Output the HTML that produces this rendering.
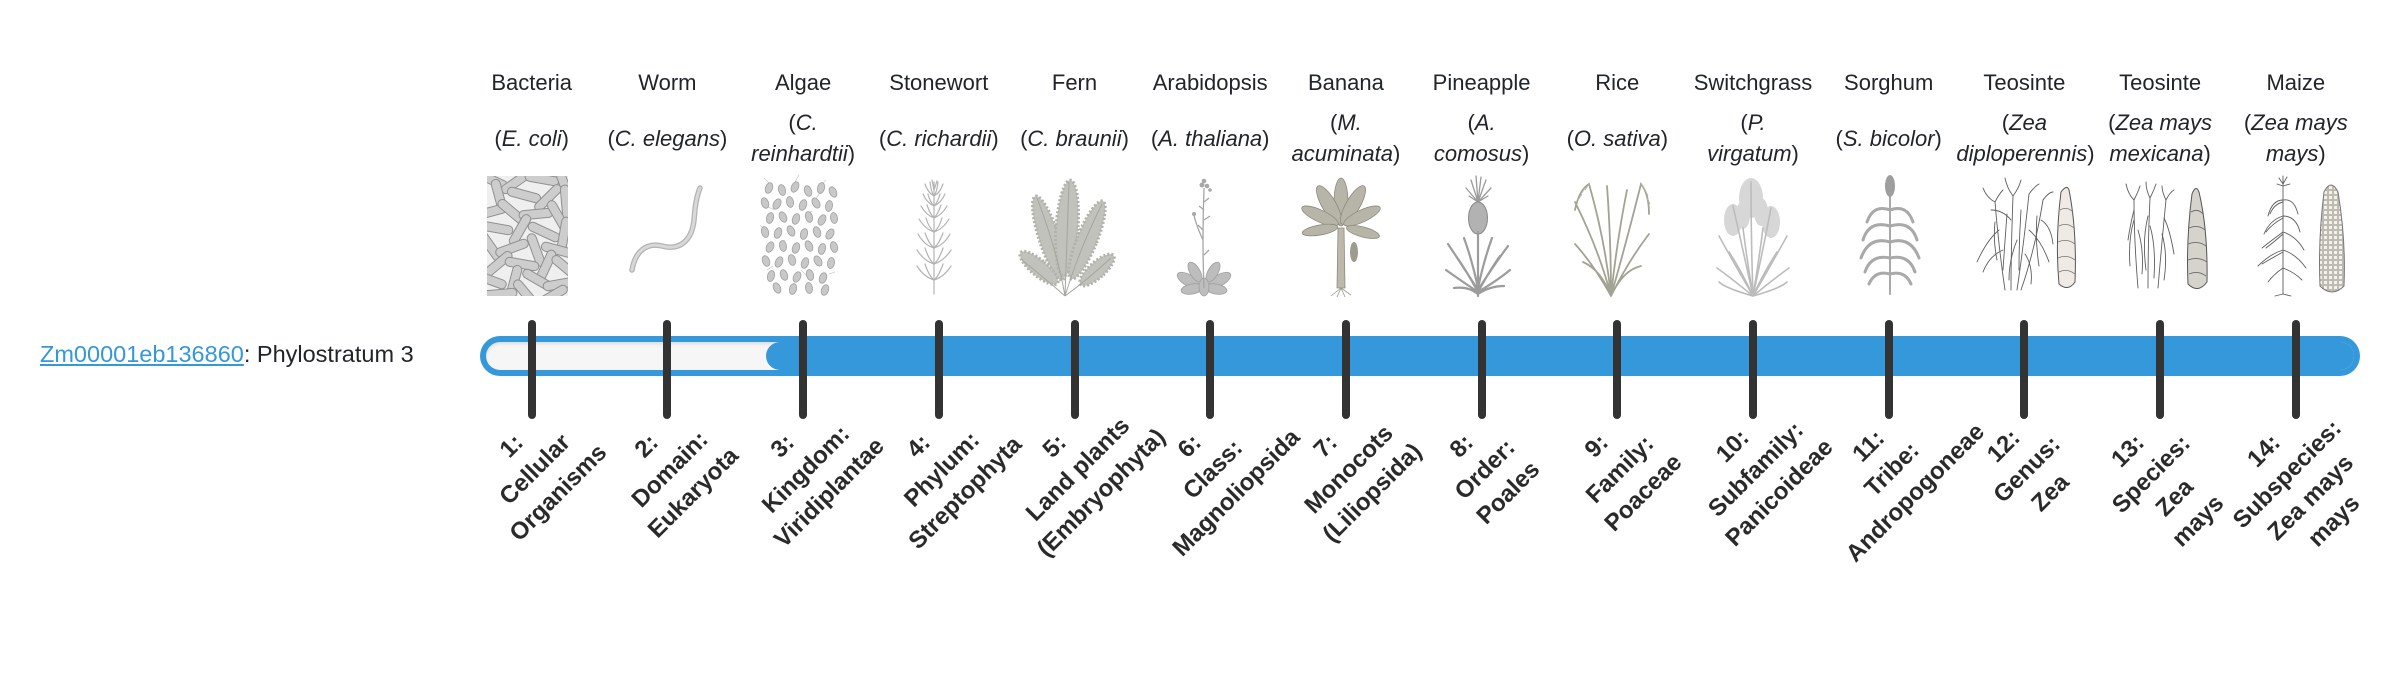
<!DOCTYPE html>
<html><head><meta charset="utf-8">
<style>
html,body{margin:0;padding:0;background:#fff;}
body{width:2400px;height:580px;position:relative;overflow:hidden;font-family:"Liberation Sans",Arial,sans-serif;color:#212529;}
.nm{position:absolute;top:67px;width:136px;text-align:center;font-size:22px;line-height:31px;white-space:nowrap;}
.sp{position:absolute;width:136px;text-align:center;font-size:22px;line-height:31px;white-space:nowrap;}
.sp1{top:123px}.sp2{top:107px}
.tk{position:absolute;top:320px;width:8px;height:99px;background:#333;border-radius:4px;}
.lb{position:absolute;top:419.5px;width:400px;text-align:center;font-weight:bold;font-size:24px;line-height:33px;white-space:nowrap;transform:rotate(-45deg);color:#2a2a2a;}
svg.im{position:absolute;top:170px;}
</style></head><body>

<!-- left label -->
<div style="position:absolute;left:40px;top:340px;font-size:23.5px;line-height:28px;white-space:nowrap;"><span style="color:#3498db;text-decoration:underline;">Zm00001eb136860</span>: Phylostratum 3</div>

<!-- common names -->
<div class="nm" style="left:463.7px">Bacteria</div>
<div class="nm" style="left:599.4px">Worm</div>
<div class="nm" style="left:735.1px">Algae</div>
<div class="nm" style="left:870.8px">Stonewort</div>
<div class="nm" style="left:1006.5px">Fern</div>
<div class="nm" style="left:1142.2px">Arabidopsis</div>
<div class="nm" style="left:1277.9px">Banana</div>
<div class="nm" style="left:1413.6px">Pineapple</div>
<div class="nm" style="left:1549.3px">Rice</div>
<div class="nm" style="left:1685.0px">Switchgrass</div>
<div class="nm" style="left:1820.7px">Sorghum</div>
<div class="nm" style="left:1956.4px">Teosinte</div>
<div class="nm" style="left:2092.1px">Teosinte</div>
<div class="nm" style="left:2227.8px">Maize</div>

<!-- species -->
<div class="sp sp1" style="left:463.7px">(<i>E. coli</i>)</div>
<div class="sp sp1" style="left:599.4px">(<i>C. elegans</i>)</div>
<div class="sp sp2" style="left:735.1px">(<i>C.</i><br><i>reinhardtii</i>)</div>
<div class="sp sp1" style="left:870.8px">(<i>C. richardii</i>)</div>
<div class="sp sp1" style="left:1006.5px">(<i>C. braunii</i>)</div>
<div class="sp sp1" style="left:1142.2px">(<i>A. thaliana</i>)</div>
<div class="sp sp2" style="left:1277.9px">(<i>M.</i><br><i>acuminata</i>)</div>
<div class="sp sp2" style="left:1413.6px">(<i>A.</i><br><i>comosus</i>)</div>
<div class="sp sp1" style="left:1549.3px">(<i>O. sativa</i>)</div>
<div class="sp sp2" style="left:1685.0px">(<i>P.</i><br><i>virgatum</i>)</div>
<div class="sp sp1" style="left:1820.7px">(<i>S. bicolor</i>)</div>
<div class="sp sp2" style="left:1956.4px">(<i>Zea</i><br><i>diploperennis</i>)</div>
<div class="sp sp2" style="left:2092.1px">(<i>Zea mays</i><br><i>mexicana</i>)</div>
<div class="sp sp2" style="left:2227.8px">(<i>Zea mays</i><br><i>mays</i>)</div>

<!-- 1 Bacteria -->
<svg class="im" style="left:463.85px" width="136" height="130" viewBox="0 0 136 130">
<defs><clipPath id="cb"><rect x="23" y="6" width="81" height="120"/></clipPath></defs>
<g clip-path="url(#cb)">
<rect x="23" y="6" width="81" height="120" fill="#efefef"/>
<g fill="#cdcdcd" stroke="#909090" stroke-width="1">
<rect x="-17" y="-4.5" width="34" height="9" rx="4.5" transform="translate(28,10) rotate(25)"/>
<rect x="-17" y="-4.5" width="34" height="9" rx="4.5" transform="translate(52,12) rotate(-35)"/>
<rect x="-17" y="-4.5" width="34" height="9" rx="4.5" transform="translate(78,9) rotate(10)"/>
<rect x="-17" y="-4.5" width="34" height="9" rx="4.5" transform="translate(100,14) rotate(70)"/>
<rect x="-17" y="-4.5" width="34" height="9" rx="4.5" transform="translate(35,26) rotate(75)"/>
<rect x="-17" y="-4.5" width="34" height="9" rx="4.5" transform="translate(60,25) rotate(15)"/>
<rect x="-17" y="-4.5" width="34" height="9" rx="4.5" transform="translate(84,28) rotate(-45)"/>
<rect x="-17" y="-4.5" width="34" height="9" rx="4.5" transform="translate(102,32) rotate(85)"/>
<rect x="-17" y="-4.5" width="34" height="9" rx="4.5" transform="translate(26,42) rotate(-15)"/>
<rect x="-17" y="-4.5" width="34" height="9" rx="4.5" transform="translate(48,42) rotate(40)"/>
<rect x="-17" y="-4.5" width="34" height="9" rx="4.5" transform="translate(72,44) rotate(-5)"/>
<rect x="-17" y="-4.5" width="34" height="9" rx="4.5" transform="translate(94,46) rotate(60)"/>
<rect x="-17" y="-4.5" width="34" height="9" rx="4.5" transform="translate(32,58) rotate(10)"/>
<rect x="-17" y="-4.5" width="34" height="9" rx="4.5" transform="translate(56,60) rotate(-60)"/>
<rect x="-17" y="-4.5" width="34" height="9" rx="4.5" transform="translate(80,62) rotate(25)"/>
<rect x="-17" y="-4.5" width="34" height="9" rx="4.5" transform="translate(100,64) rotate(-80)"/>
<rect x="-17" y="-4.5" width="34" height="9" rx="4.5" transform="translate(26,76) rotate(55)"/>
<rect x="-17" y="-4.5" width="34" height="9" rx="4.5" transform="translate(48,78) rotate(-20)"/>
<rect x="-17" y="-4.5" width="34" height="9" rx="4.5" transform="translate(72,80) rotate(70)"/>
<rect x="-17" y="-4.5" width="34" height="9" rx="4.5" transform="translate(94,80) rotate(15)"/>
<rect x="-17" y="-4.5" width="34" height="9" rx="4.5" transform="translate(34,94) rotate(-40)"/>
<rect x="-17" y="-4.5" width="34" height="9" rx="4.5" transform="translate(58,94) rotate(10)"/>
<rect x="-17" y="-4.5" width="34" height="9" rx="4.5" transform="translate(82,96) rotate(-65)"/>
<rect x="-17" y="-4.5" width="34" height="9" rx="4.5" transform="translate(102,98) rotate(40)"/>
<rect x="-17" y="-4.5" width="34" height="9" rx="4.5" transform="translate(26,110) rotate(20)"/>
<rect x="-17" y="-4.5" width="34" height="9" rx="4.5" transform="translate(50,112) rotate(-75)"/>
<rect x="-17" y="-4.5" width="34" height="9" rx="4.5" transform="translate(74,110) rotate(30)"/>
<rect x="-17" y="-4.5" width="34" height="9" rx="4.5" transform="translate(96,114) rotate(-10)"/>
<rect x="-17" y="-4.5" width="34" height="9" rx="4.5" transform="translate(36,124) rotate(-5)"/>
<rect x="-17" y="-4.5" width="34" height="9" rx="4.5" transform="translate(62,124) rotate(50)"/>
<rect x="-17" y="-4.5" width="34" height="9" rx="4.5" transform="translate(88,126) rotate(-30)"/>
</g></g></svg>

<!-- 2 Worm -->
<svg class="im" style="left:599.55px" width="136" height="130" viewBox="0 0 136 130">
<path d="M32,100 C35,82 46,72 62,76 C80,81 92,70 94,50 C95,38 96,28 100,18" fill="none" stroke="#b3b3b3" stroke-width="5.5" stroke-linecap="round"/>
<path d="M32,100 C35,82 46,72 62,76 C80,81 92,70 94,50 C95,38 96,28 100,18" fill="none" stroke="#d8d8d8" stroke-width="3" stroke-linecap="round"/>
</svg>

<!-- 3 Algae -->
<svg class="im" style="left:735.25px" width="136" height="130" viewBox="0 0 136 130">
<g stroke="#cfcfcf" stroke-width="0.8" fill="none">
<path d="M35,14 l-6,-6 M60,12 l4,-7 M85,16 l6,-6 M40,40 l-7,-3 M70,45 l7,-4 M50,70 l-6,3 M90,66 l7,2 M38,96 l-6,4 M66,100 l5,5 M94,104 l6,-2 M30,60 l-5,-5 M80,30 l5,-7"/>
</g>
<g fill="#c8c8c8" stroke="#a2a2a2" stroke-width="0.8">
<ellipse cx="34" cy="18" rx="3.5" ry="5.5" transform="rotate(20 34 18)"/>
<ellipse cx="47" cy="20" rx="3.5" ry="5.5" transform="rotate(-15 47 20)"/>
<ellipse cx="60" cy="17" rx="3.5" ry="5.5" transform="rotate(25 60 17)"/>
<ellipse cx="73" cy="21" rx="3.5" ry="5.5" transform="rotate(-20 73 21)"/>
<ellipse cx="86" cy="18" rx="3.5" ry="5.5" transform="rotate(15 86 18)"/>
<ellipse cx="98" cy="22" rx="3.5" ry="5.5" transform="rotate(-25 98 22)"/>
<ellipse cx="30" cy="33" rx="3.5" ry="5.5" transform="rotate(-20 30 33)"/>
<ellipse cx="42" cy="34" rx="3.5" ry="5.5" transform="rotate(30 42 34)"/>
<ellipse cx="55" cy="32" rx="3.5" ry="5.5" transform="rotate(-10 55 32)"/>
<ellipse cx="68" cy="35" rx="3.5" ry="5.5" transform="rotate(20 68 35)"/>
<ellipse cx="81" cy="33" rx="3.5" ry="5.5" transform="rotate(-30 81 33)"/>
<ellipse cx="94" cy="36" rx="3.5" ry="5.5" transform="rotate(10 94 36)"/>
<ellipse cx="35" cy="48" rx="3.5" ry="5.5" transform="rotate(15 35 48)"/>
<ellipse cx="48" cy="47" rx="3.5" ry="5.5" transform="rotate(-25 48 47)"/>
<ellipse cx="61" cy="49" rx="3.5" ry="5.5" transform="rotate(20 61 49)"/>
<ellipse cx="74" cy="47" rx="3.5" ry="5.5" transform="rotate(-15 74 47)"/>
<ellipse cx="87" cy="50" rx="3.5" ry="5.5" transform="rotate(25 87 50)"/>
<ellipse cx="99" cy="48" rx="3.5" ry="5.5" transform="rotate(-10 99 48)"/>
<ellipse cx="30" cy="62" rx="3.5" ry="5.5" transform="rotate(-15 30 62)"/>
<ellipse cx="43" cy="63" rx="3.5" ry="5.5" transform="rotate(20 43 63)"/>
<ellipse cx="56" cy="61" rx="3.5" ry="5.5" transform="rotate(-25 56 61)"/>
<ellipse cx="69" cy="64" rx="3.5" ry="5.5" transform="rotate(15 69 64)"/>
<ellipse cx="82" cy="62" rx="3.5" ry="5.5" transform="rotate(-20 82 62)"/>
<ellipse cx="95" cy="64" rx="3.5" ry="5.5" transform="rotate(30 95 64)"/>
<ellipse cx="35" cy="77" rx="3.5" ry="5.5" transform="rotate(25 35 77)"/>
<ellipse cx="48" cy="76" rx="3.5" ry="5.5" transform="rotate(-10 48 76)"/>
<ellipse cx="61" cy="78" rx="3.5" ry="5.5" transform="rotate(20 61 78)"/>
<ellipse cx="74" cy="76" rx="3.5" ry="5.5" transform="rotate(-25 74 76)"/>
<ellipse cx="87" cy="79" rx="3.5" ry="5.5" transform="rotate(15 87 79)"/>
<ellipse cx="99" cy="77" rx="3.5" ry="5.5" transform="rotate(-15 99 77)"/>
<ellipse cx="31" cy="91" rx="3.5" ry="5.5" transform="rotate(-20 31 91)"/>
<ellipse cx="44" cy="92" rx="3.5" ry="5.5" transform="rotate(25 44 92)"/>
<ellipse cx="57" cy="90" rx="3.5" ry="5.5" transform="rotate(-15 57 90)"/>
<ellipse cx="70" cy="93" rx="3.5" ry="5.5" transform="rotate(20 70 93)"/>
<ellipse cx="83" cy="91" rx="3.5" ry="5.5" transform="rotate(-30 83 91)"/>
<ellipse cx="96" cy="93" rx="3.5" ry="5.5" transform="rotate(10 96 93)"/>
<ellipse cx="36" cy="106" rx="3.5" ry="5.5" transform="rotate(15 36 106)"/>
<ellipse cx="49" cy="105" rx="3.5" ry="5.5" transform="rotate(-20 49 105)"/>
<ellipse cx="62" cy="107" rx="3.5" ry="5.5" transform="rotate(25 62 107)"/>
<ellipse cx="75" cy="105" rx="3.5" ry="5.5" transform="rotate(-15 75 105)"/>
<ellipse cx="88" cy="108" rx="3.5" ry="5.5" transform="rotate(20 88 108)"/>
<ellipse cx="42" cy="118" rx="3.5" ry="5.5" transform="rotate(-25 42 118)"/>
<ellipse cx="58" cy="119" rx="3.5" ry="5.5" transform="rotate(15 58 119)"/>
<ellipse cx="74" cy="118" rx="3.5" ry="5.5" transform="rotate(-10 74 118)"/>
<ellipse cx="90" cy="120" rx="3.5" ry="5.5" transform="rotate(20 90 120)"/>
</g></svg>

<!-- 4 Stonewort -->
<svg class="im" style="left:870.95px" width="136" height="130" viewBox="0 0 136 130">
<g stroke="#b3b3b3" stroke-width="1.2" fill="none" stroke-linecap="round">
<path d="M63,124 L63,12"/>
<path d="M63,110 q-10,-3 -17,-14 M63,110 q10,-3 17,-14 M63,110 q-5,-4 -9,-16 M63,110 q5,-4 9,-16"/>
<path d="M63,94 q-10,-3 -17,-14 M63,94 q10,-3 17,-14 M63,94 q-5,-4 -9,-16 M63,94 q5,-4 9,-16"/>
<path d="M63,78 q-10,-3 -16,-14 M63,78 q10,-3 16,-14 M63,78 q-5,-4 -9,-15 M63,78 q5,-4 9,-15"/>
<path d="M63,62 q-9,-3 -15,-13 M63,62 q9,-3 15,-13 M63,62 q-5,-4 -8,-14 M63,62 q5,-4 8,-14"/>
<path d="M63,48 q-8,-3 -13,-12 M63,48 q8,-3 13,-12 M63,48 q-4,-4 -7,-13 M63,48 q4,-4 7,-13"/>
<path d="M63,36 q-7,-3 -11,-12 M63,36 q7,-3 11,-12 M63,36 q-4,-4 -6,-12 M63,36 q4,-4 6,-12"/>
<path d="M63,26 q-6,-3 -9,-12 M63,26 q6,-3 9,-12 M63,26 q-3,-4 -4,-14 M63,26 q3,-4 4,-14 M63,20 l-2,-10 M63,20 l3,-9"/>
</g></svg>

<!-- 5 Fern -->
<svg class="im" style="left:1006.65px" width="136" height="130" viewBox="0 0 136 130">
<g fill="#c2c2bd" stroke="#b2b2ac" stroke-width="3" stroke-dasharray="2 2">
<ellipse cx="42" cy="68" rx="10" ry="44" transform="rotate(-18 42 68)"/>
<ellipse cx="60" cy="58" rx="11" ry="48" transform="rotate(4 60 58)"/>
<ellipse cx="80" cy="70" rx="10" ry="42" transform="rotate(22 80 70)"/>
<ellipse cx="32" cy="98" rx="8" ry="24" transform="rotate(-50 32 98)"/>
<ellipse cx="90" cy="100" rx="8" ry="22" transform="rotate(48 90 100)"/>
</g>
<g stroke="#a5a5a0" stroke-width="1" fill="none">
<path d="M58,126 Q50,80 30,28 M58,126 Q60,70 62,12 M58,126 Q72,80 95,34 M58,126 Q40,110 15,90 M58,126 Q80,110 104,88"/>
</g></svg>

<!-- 6 Arabidopsis -->
<svg class="im" style="left:1142.35px" width="136" height="130" viewBox="0 0 136 130">
<g fill="#bdbdbd" stroke="#a0a0a0" stroke-width="0.8">
<ellipse cx="46" cy="110" rx="5.5" ry="12" transform="rotate(-60 46 110)"/>
<ellipse cx="78" cy="110" rx="5.5" ry="12" transform="rotate(60 78 110)"/>
<ellipse cx="53" cy="102" rx="5" ry="11" transform="rotate(-30 53 102)"/>
<ellipse cx="71" cy="102" rx="5" ry="11" transform="rotate(30 71 102)"/>
<ellipse cx="50" cy="119" rx="5" ry="11" transform="rotate(-100 50 119)"/>
<ellipse cx="74" cy="119" rx="5" ry="11" transform="rotate(100 74 119)"/>
<ellipse cx="62" cy="117" rx="5" ry="9"/>
</g>
<g stroke="#a6a6a6" stroke-width="1.3" fill="none">
<path d="M62,118 Q60,70 62,18 M61,70 Q54,55 52,45 M62,50 l6,-4 M61,60 l-5,-5 M62,85 l5,-5 M62,40 l-5,-4 M62,32 l5,-4"/>
</g>
<g fill="#a8a8a8"><circle cx="60" cy="15" r="2.5"/><circle cx="65" cy="16" r="2.3"/><circle cx="62" cy="11" r="2.3"/><circle cx="52" cy="44" r="2"/><circle cx="68" cy="20" r="1.8"/></g>
</svg>

<!-- 7 Banana -->
<svg class="im" style="left:1278.05px" width="136" height="130" viewBox="0 0 136 130">
<g fill="#b7b5a7" stroke="#8d8b7e" stroke-width="0.8">
<ellipse cx="63" cy="32" rx="7" ry="24"/>
<ellipse cx="51" cy="35" rx="7" ry="22" transform="rotate(-30 51 35)"/>
<ellipse cx="75" cy="35" rx="7" ry="22" transform="rotate(30 75 35)"/>
<ellipse cx="42" cy="46" rx="6" ry="20" transform="rotate(-65 42 46)"/>
<ellipse cx="84" cy="46" rx="6" ry="20" transform="rotate(65 84 46)"/>
<ellipse cx="42" cy="60" rx="5" ry="18" transform="rotate(-100 42 60)"/>
<ellipse cx="85" cy="62" rx="5" ry="17" transform="rotate(105 85 62)"/>
</g>
<path d="M59,118 L60,58 L66,58 L67,118 Z" fill="#bcb9ab" stroke="#8d8b7e" stroke-width="0.8"/>
<ellipse cx="76" cy="82" rx="4" ry="10" fill="#9e9c90"/>
<g stroke="#9a988c" stroke-width="0.8" fill="none"><path d="M63,118 l-10,8 M63,118 l-4,9 M63,118 l4,9 M63,118 l10,7"/></g>
</svg>

<!-- 8 Pineapple -->
<svg class="im" style="left:1413.75px" width="136" height="130" viewBox="0 0 136 130">
<g stroke="#9a9a9a" stroke-width="1.3" fill="none" stroke-linecap="round">
<path d="M64,32 L57,10 M64,32 L62,6 M64,32 L67,7 M64,32 L72,10 M64,32 L52,18 M64,32 L77,18 M64,32 L55,26 M64,32 L74,26"/>
</g>
<ellipse cx="64" cy="48" rx="9.5" ry="16" fill="#b2b2b2" stroke="#8a8a8a" stroke-width="1"/>
<g stroke="#9c9c9c" stroke-width="2.2" fill="none" stroke-linecap="round">
<path d="M64,126 L64,62 M64,120 Q48,95 34,74 M64,120 Q80,95 94,76 M64,122 Q46,110 32,100 M64,122 Q84,110 96,100 M64,118 Q58,90 50,68 M64,118 Q70,90 78,68 M64,124 Q54,116 40,118 M64,124 Q76,116 90,116 M64,122 Q52,100 42,86 M64,122 Q76,100 86,86"/>
</g></svg>

<!-- 9 Rice -->
<svg class="im" style="left:1549.45px" width="136" height="130" viewBox="0 0 136 130">
<g stroke="#a3a394" stroke-width="1.8" fill="none" stroke-linecap="round">
<path d="M62,126 Q50,80 26,32 M62,126 Q56,70 40,14 Q30,20 26,40 M62,126 Q62,70 58,16 M62,126 Q68,70 78,20 M62,126 Q78,70 92,14 Q100,24 100,44 M62,126 Q80,90 100,64 M62,126 Q45,95 26,74 M62,126 Q52,100 34,92 M62,126 Q74,100 92,96"/>
</g>
<g stroke="#b5b5a8" stroke-width="1" fill="none">
<path d="M40,14 l-4,6 M36,18 l-4,6 M33,24 l-4,6 M92,14 l4,6 M96,20 l3,6 M98,28 l3,6"/>
</g></svg>

<!-- 10 Switchgrass -->
<svg class="im" style="left:1685.15px" width="136" height="130" viewBox="0 0 136 130">
<g fill="#d3d3d3" opacity="0.9">
<ellipse cx="66" cy="28" rx="12" ry="20"/><ellipse cx="48" cy="50" rx="9" ry="16"/><ellipse cx="86" cy="52" rx="9" ry="16"/><ellipse cx="58" cy="45" rx="7" ry="14"/><ellipse cx="76" cy="42" rx="7" ry="14"/>
</g>
<g stroke="#bcbcbc" stroke-width="1.6" fill="none" stroke-linecap="round">
<path d="M68,126 Q66,70 66,12 M68,126 Q58,80 48,36 M68,126 Q78,80 86,38 M68,126 Q50,95 34,66 M68,126 Q86,95 102,66 M68,126 Q46,108 32,98 M68,126 Q90,108 104,98 M68,126 Q56,100 44,82 M68,126 Q80,100 92,82 M68,126 Q62,90 58,58 M68,126 Q74,90 78,58 M68,126 Q40,118 34,112 M68,126 Q96,118 102,112"/>
</g></svg>

<!-- 11 Sorghum -->
<svg class="im" style="left:1820.85px" width="136" height="130" viewBox="0 0 136 130">
<g stroke="#a9a9a9" stroke-width="3" fill="none" stroke-linecap="round">
<path d="M69,124 L69,24" stroke-width="2"/>
<path d="M69,40 Q86,34 92,52 M69,40 Q52,34 46,52 M69,56 Q90,50 96,70 M69,56 Q48,50 42,70 M69,72 Q90,66 98,88 M69,72 Q48,66 40,88 M69,88 Q88,84 94,102 M69,88 Q50,84 44,102 M69,104 Q84,100 90,114 M69,104 Q54,100 48,114"/>
</g>
<ellipse cx="69" cy="16" rx="5" ry="11" fill="#9e9e9e"/>
</svg>

<!-- 12 Teosinte -->
<svg class="im" style="left:1956.55px" width="136" height="130" viewBox="0 0 136 130">
<g stroke="#5e5e5e" stroke-width="0.9" fill="none" stroke-linecap="round">
<path d="M48,120 Q42,80 38,32 M54,120 Q54,80 56,26 M60,120 Q66,80 72,24 M64,120 Q78,80 86,30"/>
<path d="M42,60 Q30,70 20,92 M46,80 Q32,86 26,102 M54,50 Q46,40 34,40 M60,70 Q52,90 52,110 M72,60 Q84,70 92,92 M68,84 Q76,96 74,114 M84,50 Q94,56 96,74 M38,32 Q30,28 26,18 M56,26 Q50,18 48,8 M56,26 Q62,18 64,10 M72,24 Q78,16 82,14 M86,30 Q92,22 96,22 M38,32 Q42,24 46,20"/>
<path d="M38,52 Q36,70 40,90 M50,44 Q48,70 46,100 M64,40 Q62,70 62,100 M80,46 Q78,70 82,96"/>
</g>
<path d="M104,22 Q110,14 112,20 Q120,60 118,112 Q111,122 102,114 Q98,70 104,22 Z" fill="#efebe4" stroke="#555" stroke-width="1"/>
<g stroke="#777" stroke-width="0.8" fill="none"><path d="M103,40 Q110,36 116,42 M102,56 Q110,52 117,58 M101,72 Q110,68 118,74 M101,88 Q110,84 118,90 M102,102 Q110,98 118,104"/></g>
</svg>

<!-- 13 Teosinte -->
<svg class="im" style="left:2092.25px" width="136" height="130" viewBox="0 0 136 130">
<g stroke="#5e5e5e" stroke-width="0.9" fill="none" stroke-linecap="round">
<path d="M46,118 Q42,70 42,30 M56,118 Q56,70 58,28 M66,118 Q70,70 74,30"/>
<path d="M42,30 Q36,24 34,14 M42,30 Q46,22 48,16 M58,28 Q54,20 54,12 M58,28 Q62,20 64,14 M74,30 Q78,22 82,20 M74,30 Q70,22 70,16"/>
<path d="M42,50 Q36,70 38,96 M46,60 Q52,80 50,104 M56,46 Q50,70 54,100 M58,56 Q64,76 62,108 M72,48 Q78,60 82,84 M70,64 Q76,84 72,110 M42,40 Q38,56 36,70"/>
</g>
<path d="M100,24 Q104,14 107,22 Q116,60 115,112 Q106,124 96,114 Q94,70 100,24 Z" fill="#d6d3cc" stroke="#555" stroke-width="1"/>
<g stroke="#6a6a6a" stroke-width="0.9" fill="none"><path d="M99,42 Q106,38 111,44 M97,58 Q106,54 113,60 M96,74 Q106,70 114,76 M96,90 Q106,86 115,92 M97,104 Q106,100 114,106"/></g>
</svg>

<!-- 14 Maize -->
<svg class="im" style="left:2227.95px" width="136" height="130" viewBox="0 0 136 130">
<defs><pattern id="kp" width="5" height="5" patternUnits="userSpaceOnUse"><rect width="5" height="5" fill="#f4f1eb"/><rect x="0.5" y="0.5" width="4" height="4" fill="none" stroke="#a8a49c" stroke-width="0.7"/></pattern></defs>
<g stroke="#5e5e5e" stroke-width="0.9" fill="none" stroke-linecap="round">
<path d="M55,124 L55,14 M55,14 l-4,-6 M55,14 l4,-7 M55,14 l0,-8 M55,16 l-6,-2 M55,16 l7,-2"/>
<path d="M55,30 Q44,30 40,46 M55,30 Q66,28 70,44 M55,46 Q42,50 36,64 M55,46 Q68,46 72,62 M55,62 Q44,70 34,78 M55,62 Q68,66 76,80 M55,80 Q42,84 30,96 M55,80 Q68,84 78,98 M55,98 Q46,104 40,112 M55,98 Q66,102 74,110 M55,124 l-8,2 M55,124 l8,2"/>
<path d="M55,32 Q46,34 42,44 M55,48 Q44,54 38,62 M55,64 Q46,72 38,78 M55,82 Q44,88 34,94"/>
</g>
<path d="M96,22 Q103,8 110,22 Q118,70 116,116 Q104,128 92,116 Q90,70 96,22 Z" fill="url(#kp)" stroke="#777" stroke-width="1"/>
</svg>

<!-- progress bar -->
<div style="position:absolute;left:480px;top:336px;width:1880px;height:40px;border-radius:20px;background:#3598db;"></div>
<div style="position:absolute;left:486px;top:342px;width:1868px;height:28px;border-radius:14px;background:#f6f6f6;box-shadow:inset 0 2px 3px rgba(0,0,0,0.1);overflow:hidden;">
  <div style="position:absolute;left:280px;top:0;width:1600px;height:28px;border-radius:14px 0 0 14px;background:#3598db;"></div>
</div>

<!-- ticks -->
<div class="tk" style="left:527.7px"></div>
<div class="tk" style="left:663.4px"></div>
<div class="tk" style="left:799.1px"></div>
<div class="tk" style="left:934.8px"></div>
<div class="tk" style="left:1070.5px"></div>
<div class="tk" style="left:1206.2px"></div>
<div class="tk" style="left:1341.9px"></div>
<div class="tk" style="left:1477.6px"></div>
<div class="tk" style="left:1613.3px"></div>
<div class="tk" style="left:1749.0px"></div>
<div class="tk" style="left:1884.7px"></div>
<div class="tk" style="left:2020.4px"></div>
<div class="tk" style="left:2156.1px"></div>
<div class="tk" style="left:2291.8px"></div>

<!-- rotated labels -->
<div class="lb" style="left:334.7px">1:<br>Cellular<br>Organisms</div>
<div class="lb" style="left:470.4px">2:<br>Domain:<br>Eukaryota</div>
<div class="lb" style="left:606.1px">3:<br>Kingdom:<br>Viridiplantae</div>
<div class="lb" style="left:741.8px">4:<br>Phylum:<br>Streptophyta</div>
<div class="lb" style="left:877.5px">5:<br>Land plants<br>(Embryophyta)</div>
<div class="lb" style="left:1013.2px">6:<br>Class:<br>Magnoliopsida</div>
<div class="lb" style="left:1148.9px">7:<br>Monocots<br>(Liliopsida)</div>
<div class="lb" style="left:1284.6px">8:<br>Order:<br>Poales</div>
<div class="lb" style="left:1420.3px">9:<br>Family:<br>Poaceae</div>
<div class="lb" style="left:1556.0px">10:<br>Subfamily:<br>Panicoideae</div>
<div class="lb" style="left:1691.7px">11:<br>Tribe:<br>Andropogoneae</div>
<div class="lb" style="left:1827.4px">12:<br>Genus:<br>Zea</div>
<div class="lb" style="left:1963.1px">13:<br>Species:<br>Zea<br>mays</div>
<div class="lb" style="left:2098.8px">14:<br>Subspecies:<br>Zea mays<br>mays</div>

</body></html>
